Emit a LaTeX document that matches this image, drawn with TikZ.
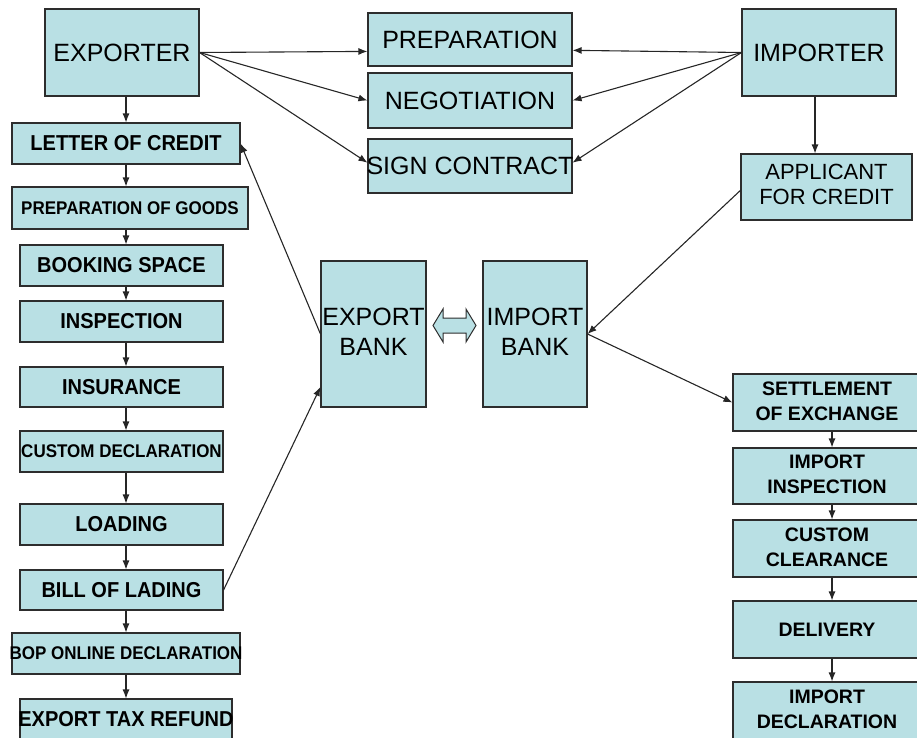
\documentclass[tikz,border=0pt]{standalone}
\usepackage{fontspec}
\setmainfont{Liberation Sans}
\usetikzlibrary{arrows.meta,calc}
\definecolor{boxfill}{RGB}{185,224,228}
\definecolor{boxline}{RGB}{45,45,45}
\newcommand\nz[1]{\makebox[0pt]{#1}}
\newcommand\nb[1]{\makebox[0pt]{\scalebox{1}[1.08]{#1}}}
\newcommand\nzz[2]{\makebox[0pt]{\begin{tabular}{@{}c@{}}#1\\#2\end{tabular}}}
\tikzset{
  box/.style={draw=boxline,fill=boxfill,line width=1.1pt,inner sep=0pt,rectangle},
  big/.style={font=\fontsize{25}{30}\selectfont},
  mid/.style={font=\fontsize{22}{25}\selectfont},
  bld/.style={font=\fontsize{20}{25}\selectfont\bfseries},
  bsm/.style={font=\fontsize{17}{20}\selectfont\bfseries},
  rbl/.style={font=\fontsize{19.5}{25}\selectfont\bfseries},
  arr/.style={-{Latex[length=9pt,width=7pt]},line width=1.1pt,black!85},
}
\begin{document}
\begin{tikzpicture}[x=1pt,y=-1pt]
\useasboundingbox (0,0) rectangle (917,737);
\clip (0,0) rectangle (917,737);
% exporter side
\node[box,big,minimum width=154,minimum height=87] (EXP) at (122,52.5) {\nz{EXPORTER}};
\node[box,bld,minimum width=228,minimum height=41] (LC) at (126,143.5) {\nb{LETTER OF CREDIT}};
\node[box,bsm,minimum width=236,minimum height=42] (POG) at (130,208) {\nb{PREPARATION OF GOODS}};
\node[box,bld,minimum width=203,minimum height=41] (BS) at (121.5,265.5) {\nb{BOOKING SPACE}};
\node[box,bld,minimum width=203,minimum height=41] (INS) at (121.5,321.5) {\nb{INSPECTION}};
\node[box,bld,minimum width=203,minimum height=40] (INSU) at (121.5,387) {\nb{INSURANCE}};
\node[box,bsm,minimum width=203,minimum height=41] (CD) at (121.5,451.5) {\nb{CUSTOM DECLARATION}};
\node[box,bld,minimum width=203,minimum height=41] (LOAD) at (121.5,524.5) {\nb{LOADING}};
\node[box,bld,minimum width=203,minimum height=40] (BL) at (121.5,590) {\nb{BILL OF LADING}};
\node[box,bsm,minimum width=228,minimum height=41] (BOP) at (126,653.5) {\nb{BOP ONLINE DECLARATION}};
\node[box,bld,minimum width=212,minimum height=41] (ETR) at (126,719.5) {\nb{EXPORT TAX REFUND}};
% middle
\node[box,big,minimum width=204,minimum height=53] (PREP) at (470,39.5) {\nz{PREPARATION}};
\node[box,big,minimum width=204,minimum height=55] (NEG) at (470,100.5) {\nz{NEGOTIATION}};
\node[box,big,minimum width=204,minimum height=54] (SC) at (470,166) {\nz{SIGN CONTRACT}};
\node[box,big,minimum width=105,minimum height=146] (EB) at (373.5,334) {\nzz{EXPORT}{BANK}};
\node[box,big,minimum width=104,minimum height=146] (IB) at (535,334) {\nzz{IMPORT}{BANK}};
% importer side
\node[box,big,minimum width=154,minimum height=87] (IMP) at (819,52.5) {\nz{IMPORTER}};
\node[box,mid,minimum width=171,minimum height=66] (APP) at (826.5,187) {\nzz{APPLICANT}{FOR CREDIT}};
\node[box,rbl,minimum width=188,minimum height=57] (SET) at (827,402.5) {\nzz{SETTLEMENT}{OF EXCHANGE}};
\node[box,rbl,minimum width=188,minimum height=56] (IIN) at (827,476) {\nzz{IMPORT}{INSPECTION}};
\node[box,rbl,minimum width=188,minimum height=57] (CC) at (827,548.5) {\nzz{CUSTOM}{CLEARANCE}};
\node[box,rbl,minimum width=188,minimum height=57] (DEL) at (827,629.5) {\nz{DELIVERY}};
\node[box,rbl,minimum width=188,minimum height=58] (ID) at (827,711) {\nzz{IMPORT}{DECLARATION}};
% column axes
\coordinate (lx) at (126,0);
\coordinate (rx) at (832,0);
\coordinate (ix) at (815,0);
% left column chain
\foreach \a/\b in {EXP/LC,LC/POG,POG/BS,BS/INS,INS/INSU,INSU/CD,CD/LOAD,LOAD/BL,BL/BOP,BOP/ETR}
  \draw[arr] (\a.south -| lx) -- (\b.north -| lx);
% right column chain
\foreach \a/\b in {SET/IIN,IIN/CC,CC/DEL,DEL/ID}
  \draw[arr] (\a.south -| rx) -- (\b.north -| rx);
\draw[arr] (IMP.south -| ix) -- (APP.north -| ix);
% fans
\draw[arr] (EXP.east) -- ($(PREP.north west)!0.72!(PREP.south west)$);
\draw[arr] (EXP.east) -- (NEG.west);
\draw[arr] (EXP.east) -- ($(SC.north west)!0.44!(SC.south west)$);
\draw[arr] (IMP.west) -- ($(PREP.north east)!0.7!(PREP.south east)$);
\draw[arr] (IMP.west) -- (NEG.east);
\draw[arr] (IMP.west) -- ($(SC.north east)!0.44!(SC.south east)$);
% banks
\draw[arr] (EB.west) -- (LC.east);
\draw[arr] (BL.east) -- ($(EB.north west)!0.86!(EB.south west)$);
\draw[arr] ($(APP.north west)!0.55!(APP.south west)$) -- (IB.east);
\draw[arr] (IB.east) -- (SET.west);
% double arrow between banks
\filldraw[draw=boxline,fill=boxfill,line width=1pt]
  (433,325.5) -- (443,309) -- (443,318) -- (466,318) -- (466,309) -- (476,325.5)
  -- (466,342) -- (466,333) -- (443,333) -- (443,342) -- cycle;
\end{tikzpicture}
\end{document}
